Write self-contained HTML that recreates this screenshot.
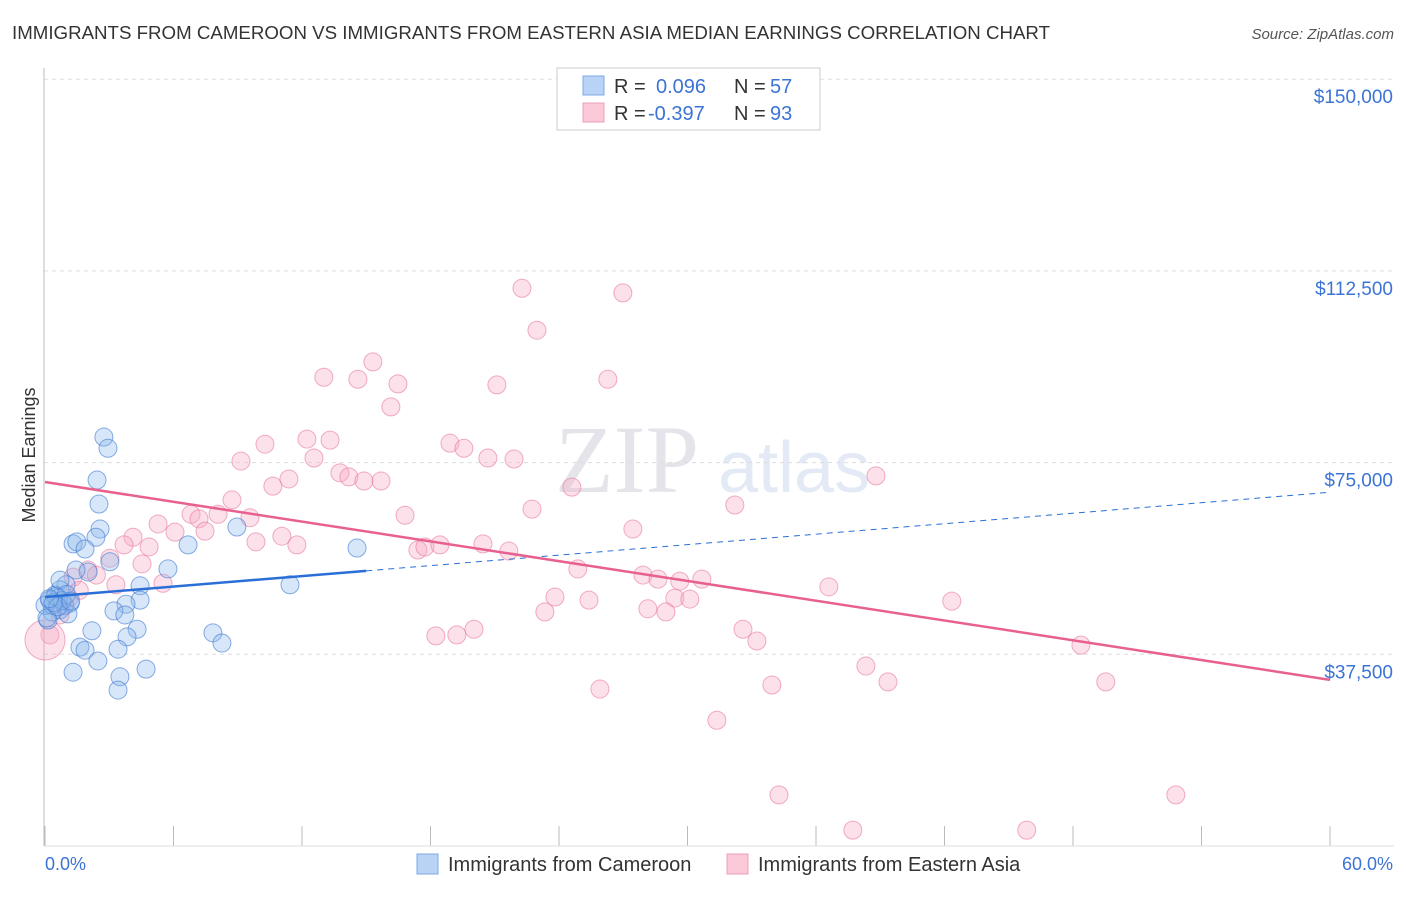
<!DOCTYPE html>
<html><head><meta charset="utf-8"><style>
body{margin:0;background:#fff;font-family:"Liberation Sans",sans-serif}
</style></head><body>
<svg id="chart" width="1406" height="892" xmlns="http://www.w3.org/2000/svg" font-family="Liberation Sans, sans-serif">
<text x="12" y="39" font-size="18" fill="#333" textLength="1038" lengthAdjust="spacingAndGlyphs">IMMIGRANTS FROM CAMEROON VS IMMIGRANTS FROM EASTERN ASIA MEDIAN EARNINGS CORRELATION CHART</text>
<text x="1394" y="39" font-size="15" fill="#555" font-style="italic" text-anchor="end">Source: ZipAtlas.com</text>
<text x="35" y="455" font-size="18" fill="#333" text-anchor="middle" transform="rotate(-90 35 455)">Median Earnings</text>
<text x="555" y="492" font-size="96" fill="#e4e4ea" font-family="Liberation Serif, serif">ZIP</text>
<text x="718" y="492" font-size="72" fill="#e3eaf5">atlas</text>
<g id="grid"></g><g id="ticks"></g>
<line x1="44" y1="68" x2="44" y2="846" stroke="#bbb"/>
<line x1="44" y1="846" x2="1394" y2="846" stroke="#ddd"/>
<g id="pink"></g><g id="blue"></g><g id="lines"></g>
<text x="45" y="870" font-size="18" fill="#3b74d4">0.0%</text>
<text x="1393" y="870" font-size="18" fill="#3b74d4" text-anchor="end">60.0%</text>
<g>
<rect x="557" y="68" width="263" height="62" fill="#fff" stroke="#ccc"/>
<rect x="583" y="76" width="21" height="19" fill="#b8d3f5" stroke="#7fa9e4"/>
<rect x="583" y="103" width="21" height="19" fill="#fbc9d8" stroke="#eda0b8"/>
<text x="614" y="93" font-size="20" fill="#333">R = </text><text x="656" y="93" font-size="20" fill="#3b74d4">0.096</text>
<text x="734" y="93" font-size="20" fill="#333">N = </text><text x="770" y="93" font-size="20" fill="#3b74d4">57</text>
<text x="614" y="120" font-size="20" fill="#333">R = </text><text x="648" y="120" font-size="20" fill="#3b74d4">-0.397</text>
<text x="734" y="120" font-size="20" fill="#333">N = </text><text x="770" y="120" font-size="20" fill="#3b74d4">93</text>
</g>
<g>
<rect x="417" y="854" width="21" height="20" fill="#b8d3f5" stroke="#7fa9e4"/>
<text x="448" y="871" font-size="20" fill="#333">Immigrants from Cameroon</text>
<rect x="727" y="854" width="21" height="20" fill="#fbc9d8" stroke="#eda0b8"/>
<text x="758" y="871" font-size="20" fill="#333">Immigrants from Eastern Asia</text>
</g>
</svg>
<script>
const yTicks=[37500,75000,112500,150000];
const yTickLabels=["$37,500","$75,000","$112,500","$150,000"];
const xTicks=[0,6,12,18,24,30,36,42,48,54,60];
const blueX=[2.75,2.94,2.43,2.52,2.57,2.38,1.31,1.49,1.87,3.03,2.01,1.45,0.98,0.70,0.47,0.23,0.93,1.17,0.70,1.07,0.33,0.14,4.44,5.74,6.68,8.96,11.44,14.57,4.44,3.78,3.22,3.73,2.19,4.30,3.83,1.63,1.87,3.41,2.47,1.31,3.50,4.72,3.41,7.84,8.26,0.70,0.33,0.61,0,0.09,0.5,0.8,1.0,0.4,0.6,1.2,0.2];
const blueY=[80.0,77.8,71.6,66.9,62.0,60.4,59.1,59.5,58.1,55.6,53.6,54.0,51.1,50.1,49.1,48.1,47.1,47.5,46.2,45.4,45.8,44.2,50.9,54.2,58.9,62.4,51.1,58.3,48.1,47.3,46.0,45.2,42.1,42.4,40.9,38.9,38.3,38.5,36.2,34.0,33.1,34.6,30.5,41.7,39.7,52.0,47.1,48.5,47.1,44.6,48.8,48.0,49.2,47.6,46.8,47.9,48.4];
const pinkX=[22.27,26.98,22.97,15.31,13.02,14.61,16.48,21.10,26.28,16.15,12.23,13.31,10.27,18.91,19.56,9.15,12.56,20.68,21.90,13.77,14.19,14.89,15.69,11.39,10.64,38.80,24.60,8.73,16.81,22.74,32.21,6.82,5.28,7.19,8.08,9.57,6.07,7.47,27.45,4.11,4.86,3.69,9.85,11.06,11.76,17.41,17.74,18.44,20.45,21.66,4.53,3.03,2.01,24.88,27.92,28.62,29.64,30.67,3.31,5.51,1.31,23.81,25.40,36.60,42.34,29.41,30.11,23.34,28.15,28.99,32.59,33.24,18.25,19.23,20.03,48.37,38.33,39.36,33.94,49.53,25.91,31.37,34.27,52.80,37.72,45.84,0.70,0.23,1.6,2.4,0.9,1.1,0];
const pinkY=[109.1,108.2,100.9,94.7,91.7,91.3,90.4,90.2,91.3,85.9,79.6,79.4,78.6,78.8,77.8,75.3,75.9,75.9,75.7,73.0,72.2,71.4,71.4,71.8,70.4,72.4,70.2,67.7,64.7,65.9,66.7,64.9,63.0,64.0,64.9,64.2,61.4,61.6,62.0,60.4,58.5,58.9,59.5,60.6,58.9,57.9,58.5,58.9,59.1,57.7,55.2,56.3,54.0,54.2,53.0,52.2,51.8,52.2,51.1,51.4,52.6,48.7,48.1,50.7,47.9,48.5,48.3,45.8,46.4,45.8,42.4,40.1,41.1,41.3,42.4,39.3,35.2,32.1,31.5,32.1,30.7,24.6,10.0,10.0,3.1,3.1,45.2,41.3,50.0,53.0,47.0,48.5,40.3];
const blueTrend=[48.7,69.2], blueSolidEnd=15.0;
const pinkTrend=[71.2,32.5];
const NS='http://www.w3.org/2000/svg';
const xs=p=>45+p*(1285/60);
const ys=v=>846-v*1000*(191.7/37500);
function mk(tag,attrs,parent){const e=document.createElementNS(NS,tag);for(const k in attrs)e.setAttribute(k,attrs[k]);document.getElementById(parent).appendChild(e);return e;}
yTicks.forEach((t,i)=>{
  const l=mk('line',{x1:44,x2:1394,y1:ys(t/1000),y2:ys(t/1000),stroke:'#ddd','stroke-dasharray':'4,4'},'grid');
  
  
  const tx=mk('text',{x:1393,y:ys(t/1000)+24,'font-size':19,fill:'#3b74d4','text-anchor':'end'},'grid');
  tx.textContent=yTickLabels[i];
  
  
});
xTicks.forEach(t=>{
  const l=mk('line',{x1:xs(t),x2:xs(t),y1:826,y2:846,stroke:'#bbb'},'ticks');
  
  
});
pinkX.forEach((x,i)=>{
  const c=mk('circle',{cx:xs(x),cy:ys(pinkY[i]),r:(x===0?20:9),fill:'rgba(247,168,194,0.35)',stroke:'rgba(232,120,160,0.6)','stroke-width':1},'pink');
  
  
});
blueX.forEach((x,i)=>{
  const c=mk('circle',{cx:xs(x),cy:ys(blueY[i]),r:9,fill:'rgba(140,183,235,0.35)',stroke:'rgba(60,120,210,0.6)','stroke-width':1},'blue');
  
  
});
const bAt=x=>blueTrend[0]+(blueTrend[1]-blueTrend[0])*x/60;
let l1=mk('line',{x1:xs(0),y1:ys(bAt(0)),x2:xs(blueSolidEnd),y2:ys(bAt(blueSolidEnd)),stroke:'#2a6fd6','stroke-width':2.5},'lines');


let l2=mk('line',{x1:xs(blueSolidEnd),y1:ys(bAt(blueSolidEnd)),x2:xs(60),y2:ys(bAt(60)),stroke:'#2a6fd6','stroke-width':1,'stroke-dasharray':'6,5'},'lines');


let l3=mk('line',{x1:xs(0),y1:ys(pinkTrend[0]),x2:xs(60),y2:ys(pinkTrend[1]),stroke:'#e8608f','stroke-width':2.5},'lines');


</script>
</body></html>
